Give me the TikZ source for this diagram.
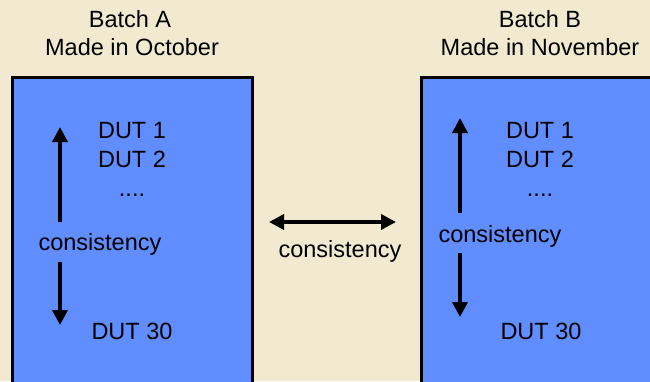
\documentclass[tikz,border=0pt]{standalone}
\usepackage{fontspec}
\setmainfont{Liberation Sans}
\usetikzlibrary{arrows.meta}
\definecolor{bg}{RGB}{242,234,208}
\definecolor{boxblue}{RGB}{96,141,255}
\begin{document}
\begin{tikzpicture}[x=1pt,y=-1pt,
  lbl/.style={font=\fontsize{23.5}{27}\selectfont, inner sep=0pt, anchor=base},
  batchbox/.style={draw=black, line width=3pt, fill=boxblue, anchor=north west, inner sep=0pt, outer sep=0pt},
  varr/.style={line width=3.5pt, -{Triangle[width=15pt,length=15pt]}},
  darr/.style={line width=3.5pt, {Triangle[width=15pt,length=15pt]}-{Triangle[width=15pt,length=15pt]}}]
\useasboundingbox (0,0) rectangle (650,381);
\clip (0,0) rectangle (650,381);
\fill[bg] (0,0) rectangle (650,381);
% boxes
\node[batchbox, minimum width=240pt, minimum height=340pt] (boxA) at (12.5,77.5) {};
\node[batchbox, minimum width=250pt, minimum height=340pt] (boxB) at (421.5,77.5) {};
% titles
\node[lbl] (tA1) at (130,27) {Batch A};
\node[lbl] (tA2) at (132,55) {Made in October};
\node[lbl] (tB1) at (540,27) {Batch B};
\node[lbl] (tB2) at (540,55) {Made in November};
% box A texts
\node[lbl] (a1) at (132,138) {DUT 1};
\node[lbl] (a2) at (132,167) {DUT 2};
\node[lbl] (ad) at (132,196) {....};
\node[lbl] (ac) at (100,250) {consistency};
\node[lbl] (a30) at (132,339) {DUT 30};
% box B texts
\node[lbl] (b1) at (540,138) {DUT 1};
\node[lbl] (b2) at (540,167) {DUT 2};
\node[lbl] (bd) at (540,196) {....};
\node[lbl] (bc) at (500,242) {consistency};
\node[lbl] (b30) at (541,339) {DUT 30};
% middle
\node[lbl] (mc) at (340,257) {consistency};
% arrow end points
\coordinate (aUp0) at (60,222);
\coordinate (aUp1) at (60,127);
\coordinate (aDn0) at (60,262);
\coordinate (aDn1) at (60,325);
\coordinate (bUp0) at (460,213);
\coordinate (bUp1) at (460,118);
\coordinate (bDn0) at (460,253);
\coordinate (bDn1) at (460,317);
\coordinate (mL) at (269,222);
\coordinate (mR) at (396,222);
\draw[varr] (aUp0) -- (aUp1);
\draw[varr] (aDn0) -- (aDn1);
\draw[varr] (bUp0) -- (bUp1);
\draw[varr] (bDn0) -- (bDn1);
\draw[darr] (mL) -- (mR);
\end{tikzpicture}
\end{document}
